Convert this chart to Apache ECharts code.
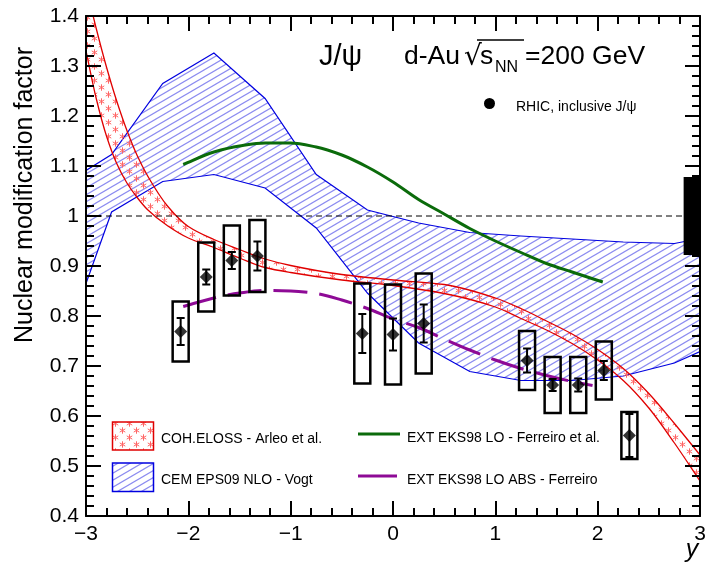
<!DOCTYPE html>
<html>
<head>
<meta charset="utf-8">
<script src="https://cdn.jsdelivr.net/npm/echarts@6/dist/echarts.min.js"></script>
<style>
  html, body { margin: 0; padding: 0; background: #fff; }
  #wrap { position: relative; width: 712px; height: 577px; }
  #chart, #frame { position: absolute; left: 0; top: 0; width: 712px; height: 577px; }
  #frame { z-index: 2; pointer-events: none; }
</style>
</head>
<body>
<div id="wrap"><div id="chart"></div><div id="frame"></div></div>
<script>
// ---- Measured nuclear modification factor of inclusive J/psi, d-Au at 200 GeV ----
const dataRapidity = [-2.075, -1.825, -1.575, -1.325, -0.30, 0.00, 0.30, 1.31, 1.56, 1.81, 2.06, 2.31];
const dataRdAu     = [0.769, 0.878, 0.911, 0.920, 0.765, 0.763, 0.785, 0.711, 0.662, 0.662, 0.691, 0.561];
const dataStatErr  = [0.027, 0.015, 0.017, 0.029, 0.039, 0.032, 0.038, 0.024, 0.012, 0.013, 0.019, 0.043];
const dataSystErr  = [0.060, 0.069, 0.070, 0.072, 0.100, 0.100, 0.100, 0.059, 0.056, 0.056, 0.058, 0.047];
const globalSystErr = 0.078;          // global normalisation uncertainty around 1
const globalBoxRapidity = [2.84, 3.0];

// ---- CEM EPS09 NLO (Vogt) band ----
const cemRapidity = [-3, -2.75, -2.25, -1.75, -1.25, -0.75, -0.25, 0.25, 0.75, 1.25, 1.75, 2.25, 2.75, 3];
const cemUpper    = [1.091, 1.123, 1.265, 1.326, 1.235, 1.083, 1.012, 0.986, 0.967, 0.960, 0.954, 0.948, 0.945, 0.955];
const cemLower    = [0.865, 1.008, 1.069, 1.083, 1.056, 0.976, 0.846, 0.746, 0.689, 0.671, 0.671, 0.680, 0.706, 0.729];

// ---- Coherent energy loss (Arleo et al.) band ----
const elossRapidity = [-3, -2.9, -2.8, -2.7, -2.6, -2.5, -2.4, -2.2, -2.0, -1.75, -1.5, -1.25, -1.0, -0.5, 0, 0.5, 1.0, 1.25, 1.5, 1.75, 2.0, 2.25, 2.5, 2.75, 3.0];
const elossUpper    = [1.46, 1.375, 1.298, 1.230, 1.171, 1.121, 1.081, 1.019, 0.979, 0.953, 0.933, 0.914, 0.901, 0.883, 0.872, 0.863, 0.836, 0.815, 0.790, 0.764, 0.733, 0.695, 0.645, 0.585, 0.522];
const elossLower    = [1.33, 1.235, 1.160, 1.105, 1.066, 1.037, 1.013, 0.980, 0.956, 0.937, 0.916, 0.897, 0.887, 0.872, 0.861, 0.845, 0.818, 0.795, 0.772, 0.745, 0.712, 0.671, 0.616, 0.546, 0.470];

// ---- EXT EKS98 LO (Ferreiro et al.) ----
const eksRapidity = [-2.05, -1.75, -1.5, -1.25, -1.0, -0.75, -0.5, -0.25, 0, 0.25, 0.5, 0.75, 1.0, 1.25, 1.5, 1.75, 2.05];
const eksValues   = [1.103, 1.128, 1.140, 1.146, 1.146, 1.138, 1.122, 1.098, 1.068, 1.033, 1.004, 0.975, 0.950, 0.927, 0.905, 0.888, 0.868];

// ---- EXT EKS98 LO with absorption (Ferreiro) ----
const eksAbsRapidity = [-2.05, -1.75, -1.5, -1.25, -1.0, -0.75, -0.5, -0.25, 0, 0.25, 0.5, 0.75, 1.0, 1.25, 1.5, 1.75, 1.95];
const eksAbsValues   = [0.819, 0.836, 0.846, 0.851, 0.850, 0.845, 0.832, 0.815, 0.794, 0.777, 0.754, 0.732, 0.712, 0.695, 0.681, 0.669, 0.661];

// ---- axes ----
const xRange = [-3, 3];
const yRange = [0.4, 1.4];
const xMajorStep = 1, yMajorStep = 0.1, minorDivisions = 5;
const referenceLevel = 1;

const FONT = '"Liberation Sans", Arial, Helvetica, sans-serif';
const RED = '#e00000', BLUE = '#0000e0', GREEN = '#0b6b0b', PURPLE = '#8e0a96';
const GRID = { left: 86, right: 12, top: 16, bottom: 61 };

// ---------- axis frame layer (labels + inward ticks on all four sides) ----------
function axisCommon(show) {
  return {
    axisLine: { show: show, onZero: false, lineStyle: { color: '#000', width: 2 } },
    axisTick: { show: show, inside: true, length: 15, lineStyle: { color: '#000', width: 2 } },
    minorTick: { show: show, splitNumber: minorDivisions, length: 8, lineStyle: { color: '#000', width: 2 } },
    splitLine: { show: false }
  };
}
function xAxisDef(pos, showLabel, show) {
  return Object.assign({
    type: 'value', position: pos, min: xRange[0], max: xRange[1], interval: xMajorStep,
    axisLabel: {
      show: showLabel, margin: 8, color: '#000', fontSize: 21, fontFamily: FONT,
      formatter: v => (v < 0 ? '\u2212' + (-v) : String(v))
    }
  }, axisCommon(show));
}
function yAxisDef(pos, showLabel, show) {
  return Object.assign({
    type: 'value', position: pos, min: yRange[0], max: yRange[1], interval: yMajorStep,
    axisLabel: {
      show: showLabel, margin: 7, color: '#000', fontSize: 21, fontFamily: FONT,
      formatter: v => String(Math.round(v * 10) / 10)
    }
  }, axisCommon(show));
}

const frameChart = echarts.init(document.getElementById('frame'), null, { renderer: 'canvas' });
frameChart.setOption({
  animation: false,
  grid: GRID,
  xAxis: [xAxisDef('bottom', true, true), xAxisDef('top', false, true)],
  yAxis: [yAxisDef('left', true, true), yAxisDef('right', false, true)],
  series: [{ type: 'scatter', data: [] }]
});

// ---------- fill patterns ----------
function makeHatch() {
  const w = 12, h = 7;
  const c = document.createElement('canvas');
  c.width = w; c.height = h;
  const g = c.getContext('2d');
  g.strokeStyle = '#8c8cf0';
  g.lineWidth = 1.2;
  for (let k = -1; k <= 1; k++) {
    g.beginPath();
    g.moveTo(-w, 2 * h + k * h);
    g.lineTo(2 * w, -h + k * h);
    g.stroke();
  }
  return c;
}
function makeStars() {
  const s = 14;
  const c = document.createElement('canvas');
  c.width = s; c.height = s;
  const g = c.getContext('2d');
  g.strokeStyle = '#ff6464';
  g.lineWidth = 1;
  const star = (cx, cy, r) => {
    for (const a of [90, 30, -30]) {
      const t = a * Math.PI / 180;
      g.beginPath();
      g.moveTo(cx - r * Math.cos(t), cy - r * Math.sin(t));
      g.lineTo(cx + r * Math.cos(t), cy + r * Math.sin(t));
      g.stroke();
    }
  };
  star(3.5, 3.5, 3.2);
  star(10.5, 10.5, 3.2);
  return c;
}
const hatchFill = { image: makeHatch(), repeat: 'repeat' };
const starFill = { image: makeStars(), repeat: 'repeat' };

// ---------- smooth curves: monotone cubic (Fritsch-Carlson) through screen points ----------
function monotoneSegments(pts) {
  const n = pts.length, dx = [], m = [], t = [];
  for (let i = 0; i < n - 1; i++) {
    dx[i] = pts[i + 1][0] - pts[i][0];
    m[i] = (pts[i + 1][1] - pts[i][1]) / dx[i];
  }
  t[0] = m[0]; t[n - 1] = m[n - 2];
  for (let i = 1; i < n - 1; i++) {
    if (m[i - 1] * m[i] <= 0) t[i] = 0;
    else {
      const w1 = 2 * dx[i] + dx[i - 1], w2 = dx[i] + 2 * dx[i - 1];
      t[i] = (w1 + w2) / (w1 / m[i - 1] + w2 / m[i]);
    }
  }
  const segs = [];
  for (let i = 0; i < n - 1; i++) {
    const h = dx[i] / 3;
    segs.push({
      p0: pts[i],
      c1: [pts[i][0] + h, pts[i][1] + t[i] * h],
      c2: [pts[i + 1][0] - h, pts[i + 1][1] - t[i + 1] * h],
      p1: pts[i + 1]
    });
  }
  return segs;
}
const f = v => v.toFixed(2);
function curvePath(pts) {
  const segs = monotoneSegments(pts);
  let d = 'M' + f(pts[0][0]) + ' ' + f(pts[0][1]);
  segs.forEach(s => { d += ' C' + f(s.c1[0]) + ' ' + f(s.c1[1]) + ' ' + f(s.c2[0]) + ' ' + f(s.c2[1]) + ' ' + f(s.p1[0]) + ' ' + f(s.p1[1]); });
  return d;
}
function bandPath(up, lo) {
  let d = curvePath(up);
  const segs = monotoneSegments(lo).reverse();
  d += ' L' + f(lo[lo.length - 1][0]) + ' ' + f(lo[lo.length - 1][1]);
  segs.forEach(s => { d += ' C' + f(s.c2[0]) + ' ' + f(s.c2[1]) + ' ' + f(s.c1[0]) + ' ' + f(s.c1[1]) + ' ' + f(s.p0[0]) + ' ' + f(s.p0[1]); });
  return d + ' Z';
}
function curveSeries(name, xs, ys, style) {
  return {
    type: 'custom', name: name, clip: true, silent: true, z: 4,
    data: [0],
    renderItem: (params, api) => {
      const pts = xs.map((x, i) => api.coord([x, ys[i]]));
      return { type: 'path', shape: { pathData: curvePath(pts) }, style: Object.assign({ fill: 'none' }, style) };
    }
  };
}

function textEl(x, y, text, size, extra) {
  return {
    type: 'text', x: x, y: y,
    style: Object.assign({
      text: text, fontSize: size, fontFamily: FONT, fill: '#000',
      textAlign: 'left', textVerticalAlign: 'middle', align: 'left', verticalAlign: 'middle'
    }, extra || {})
  };
}

// ---------- data layer ----------
const chart = echarts.init(document.getElementById('chart'), null, { renderer: 'canvas' });
chart.setOption({
  animation: false,
  backgroundColor: '#fff',
  grid: GRID,
  xAxis: [xAxisDef('bottom', false, false)],
  yAxis: [yAxisDef('left', false, false)],
  series: [
    {
      // CEM EPS09 NLO band
      type: 'custom', name: 'CEM EPS09 NLO - Vogt', clip: true, silent: true, z: 1,
      data: [0],
      renderItem: (params, api) => {
        const up = cemRapidity.map((x, i) => api.coord([x, cemUpper[i]]));
        const lo = cemRapidity.map((x, i) => api.coord([x, cemLower[i]]));
        return {
          type: 'group', children: [
            { type: 'polygon', shape: { points: up.concat(lo.slice().reverse()) }, style: { fill: hatchFill, stroke: 'none' } },
            { type: 'polyline', shape: { points: up }, style: { fill: 'none', stroke: BLUE, lineWidth: 1.2 } },
            { type: 'polyline', shape: { points: lo }, style: { fill: 'none', stroke: BLUE, lineWidth: 1.2 } }
          ]
        };
      }
    },
    {
      // Coherent energy loss band
      type: 'custom', name: 'COH.ELOSS - Arleo et al.', clip: true, silent: true, z: 2,
      data: [0],
      renderItem: (params, api) => {
        const up = elossRapidity.map((x, i) => api.coord([x, elossUpper[i]]));
        const lo = elossRapidity.map((x, i) => api.coord([x, elossLower[i]]));
        return {
          type: 'group', children: [
            { type: 'path', shape: { pathData: bandPath(up, lo) }, style: { fill: starFill, stroke: 'none' } },
            { type: 'path', shape: { pathData: curvePath(up) }, style: { fill: 'none', stroke: RED, lineWidth: 1.3 } },
            { type: 'path', shape: { pathData: curvePath(lo) }, style: { fill: 'none', stroke: RED, lineWidth: 1.3 } }
          ]
        };
      }
    },
    {
      // reference line at unity
      type: 'line', silent: true, z: 3, symbol: 'none',
      data: [[xRange[0], referenceLevel], [xRange[1], referenceLevel]],
      lineStyle: { color: '#000', width: 1, type: [6, 4] }
    },
    curveSeries('EXT EKS98 LO - Ferreiro et al.', eksRapidity, eksValues, { stroke: GREEN, lineWidth: 3 }),
    curveSeries('EXT EKS98 LO ABS - Ferreiro', eksAbsRapidity, eksAbsValues, { stroke: PURPLE, lineWidth: 3, lineDash: [34, 12] }),
    {
      // systematic uncertainty boxes
      type: 'custom', silent: true, z: 5,
      data: dataRapidity.map((x, i) => [x, dataRdAu[i], dataSystErr[i]]),
      renderItem: (params, api) => {
        const x = api.value(0), y = api.value(1), e = api.value(2);
        const top = api.coord([x, y + e]), bot = api.coord([x, y - e]);
        return {
          type: 'rect',
          shape: { x: top[0] - 8, y: top[1], width: 16, height: bot[1] - top[1] },
          style: { fill: 'none', stroke: '#000', lineWidth: 2.5 }
        };
      }
    },
    {
      // statistical error bars
      type: 'custom', silent: true, z: 6,
      data: dataRapidity.map((x, i) => [x, dataRdAu[i], dataStatErr[i]]),
      renderItem: (params, api) => {
        const x = api.value(0), y = api.value(1), e = api.value(2);
        const top = api.coord([x, y + e]), bot = api.coord([x, y - e]);
        const cap = 4, st = { stroke: '#000', lineWidth: 2 };
        return {
          type: 'group', children: [
            { type: 'line', shape: { x1: top[0], y1: top[1], x2: bot[0], y2: bot[1] }, style: st },
            { type: 'line', shape: { x1: top[0] - cap, y1: top[1], x2: top[0] + cap, y2: top[1] }, style: st },
            { type: 'line', shape: { x1: bot[0] - cap, y1: bot[1], x2: bot[0] + cap, y2: bot[1] }, style: st }
          ]
        };
      }
    },
    {
      type: 'scatter', name: 'RHIC, inclusive J/\u03c8', silent: true, z: 7,
      symbol: 'diamond', symbolSize: [13, 13],
      itemStyle: { color: '#000' },
      data: dataRapidity.map((x, i) => [x, dataRdAu[i]])
    },
    {
      // global uncertainty box
      type: 'custom', silent: true, z: 9,
      data: [[referenceLevel, globalSystErr]],
      renderItem: (params, api) => {
        const c = api.value(0), e = api.value(1);
        const a = api.coord([globalBoxRapidity[0], c + e]);
        const b = api.coord([globalBoxRapidity[1], c - e]);
        return { type: 'rect', shape: { x: a[0], y: a[1], width: b[0] - a[0] + 1, height: b[1] - a[1] }, style: { fill: '#000' } };
      }
    }
  ],
  graphic: [
    // axis titles
    Object.assign(textEl(25, 343, 'Nuclear modification factor', 25), { rotation: Math.PI / 2 }),
    textEl(692, 550, 'y', 25, { fontStyle: 'italic', textAlign: 'center', align: 'center' }),
    // header
    textEl(319, 57, 'J/\u03c8', 29),
    textEl(404, 57, 'd-Au', 26.5),
    textEl(464, 58, '\u221a', 28, { fontFamily: '"DejaVu Sans", sans-serif' }),
    { type: 'line', shape: { x1: 477, y1: 40, x2: 524, y2: 40 }, style: { stroke: '#000', lineWidth: 1.5 } },
    textEl(480, 57, 's', 26.5),
    textEl(495, 68, 'NN', 16),
    textEl(525, 57, '=200 GeV', 26.5),
    // data legend
    { type: 'circle', shape: { cx: 489.5, cy: 103.5, r: 5.5 }, style: { fill: '#000' } },
    textEl(516, 107.5, 'RHIC, inclusive J/\u03c8', 14),
    // model legend
    { type: 'rect', shape: { x: 112.5, y: 422, width: 41, height: 28 }, style: { fill: starFill, stroke: RED, lineWidth: 1.5 } },
    textEl(161, 439, 'COH.ELOSS - Arleo et al.', 14),
    { type: 'rect', shape: { x: 112.5, y: 463, width: 41, height: 28.5 }, style: { fill: hatchFill, stroke: BLUE, lineWidth: 1.5 } },
    textEl(161, 480, 'CEM EPS09 NLO - Vogt', 14),
    { type: 'line', shape: { x1: 358, y1: 434, x2: 400, y2: 434 }, style: { stroke: GREEN, lineWidth: 3 } },
    textEl(407, 438.5, 'EXT EKS98 LO - Ferreiro et al.', 14),
    { type: 'line', shape: { x1: 358, y1: 476, x2: 397, y2: 476 }, style: { stroke: PURPLE, lineWidth: 3 } },
    textEl(407, 480, 'EXT EKS98 LO ABS - Ferreiro', 14)
  ]
});
</script>
</body>
</html>
